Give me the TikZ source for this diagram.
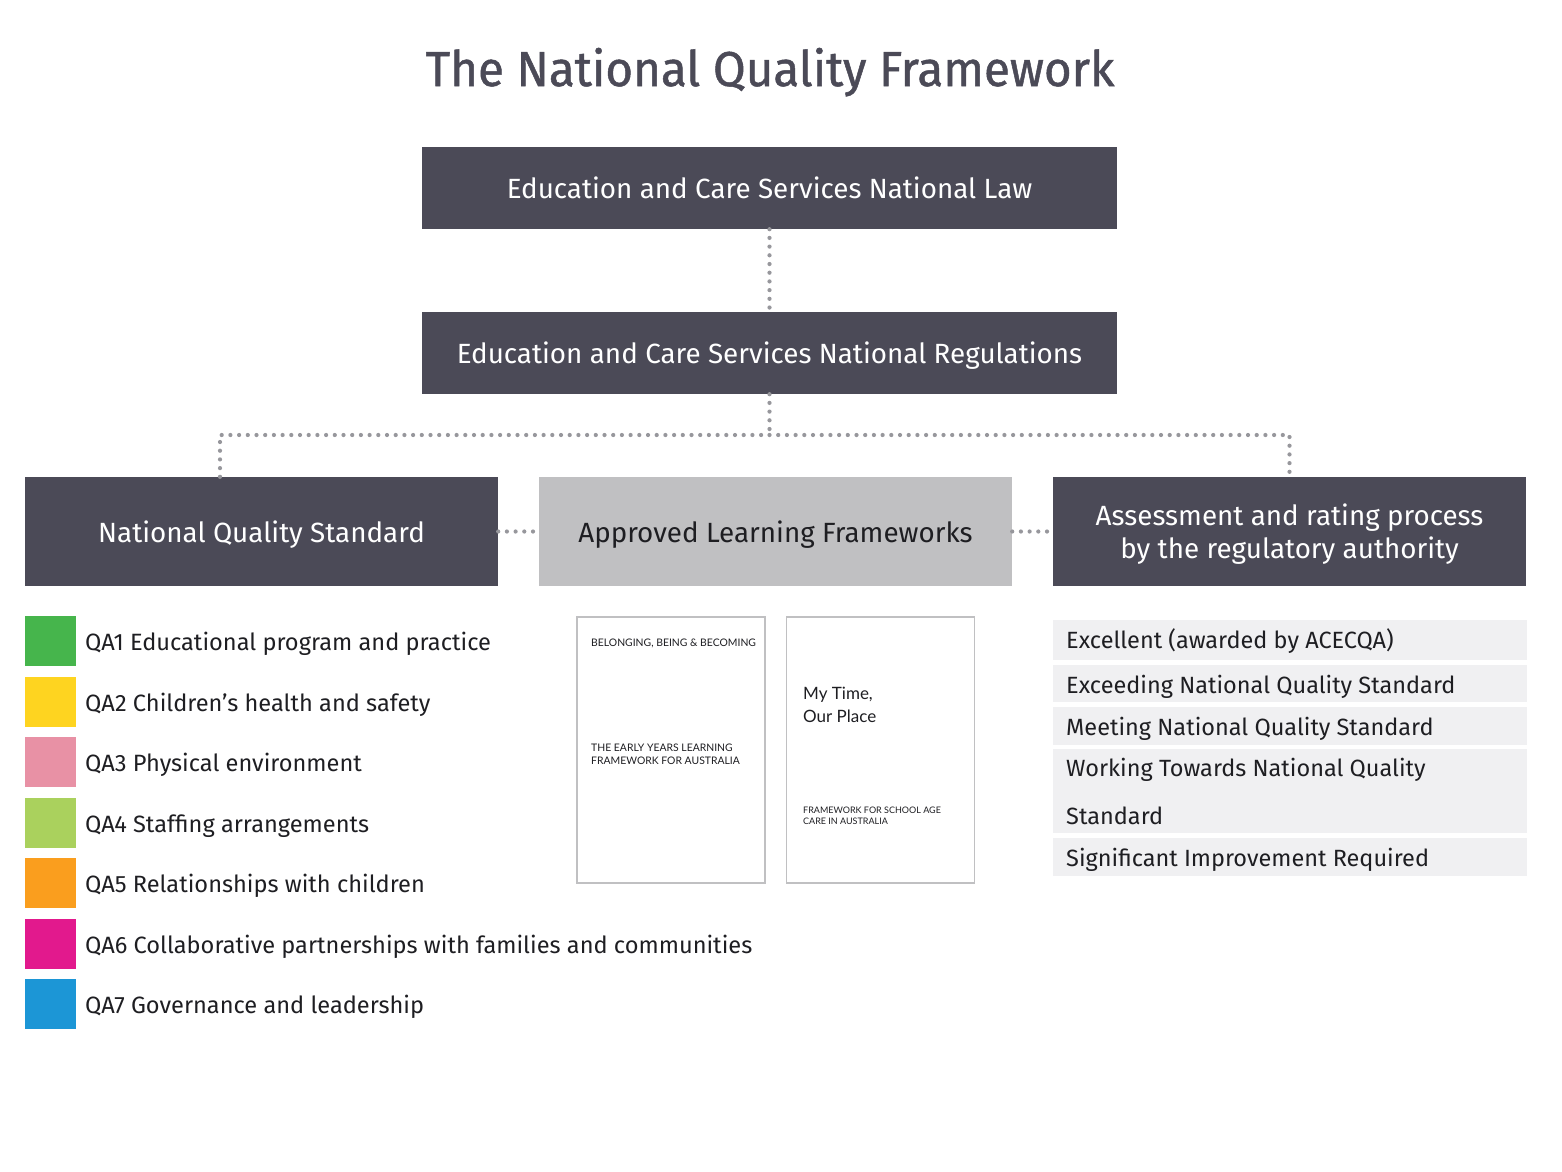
\documentclass[tikz,border=0pt]{standalone}
\usepackage{fontspec}
\setmainfont{Fira Sans}
\newfontfamily\titlefont{Fira Sans}[FakeStretch=0.97, FakeBold=1.0]
\newfontfamily\coverfont{Lato}
\definecolor{boxdark}{HTML}{4B4A57}
\definecolor{boxlight}{HTML}{C0C0C2}
\definecolor{dotgray}{HTML}{97979C}
\definecolor{rowfill}{HTML}{F0F0F2}
\definecolor{txtdark}{HTML}{1E1E22}
\definecolor{qaone}{HTML}{46B54C}
\definecolor{qatwo}{HTML}{FED420}
\definecolor{qathree}{HTML}{E891A5}
\definecolor{qafour}{HTML}{AAD15D}
\definecolor{qafive}{HTML}{FA9E1E}
\definecolor{qasix}{HTML}{E2198D}
\definecolor{qaseven}{HTML}{1C96D6}
\tikzset{
  darkbox/.style={fill=boxdark, draw=none, text=white, inner sep=0pt, align=center,
    font=\fontsize{27.8}{33}\selectfont, text height=21pt, text depth=0pt},
  lightbox/.style={darkbox, fill=boxlight, text=txtdark},
  dotline/.style={draw=dotgray, line width=4.2pt, line cap=round, dash pattern=on 0pt off 8.7pt},
  qasq/.style={minimum width=51pt, minimum height=50pt, inner sep=0pt, draw=none},
  qatext/.style={anchor=base west, inner sep=0pt, text=txtdark, font=\fontsize{23.6}{29}\selectfont},
  cover/.style={draw=boxlight, line width=1.6pt, fill=white, minimum width=188pt, minimum height=266pt, inner sep=0pt},
  covertxt/.style={anchor=base west, inner sep=0pt, align=left, text=txtdark, font=\coverfont\fontsize{10.4}{12.2}\selectfont},
  ratingrow/.style={fill=rowfill, draw=none, inner sep=0pt, minimum width=474pt},
  ratingtxt/.style={anchor=base west, inner sep=0pt, text=txtdark, font=\fontsize{23.5}{29}\selectfont},
}
\begin{document}
\begin{tikzpicture}[x=1pt, y=-1pt]
\useasboundingbox[fill=white] (0,0) rectangle (1562,1171);

% title
\node[inner sep=0pt, anchor=base, text=boxdark, font=\titlefont\fontsize{49}{58}\selectfont] (title) at (770,86) {The National Quality Framework};

% main boxes
\node[darkbox, minimum width=695pt, minimum height=82pt] (law) at (769.5,188) {Education and Care Services National Law};
\node[darkbox, minimum width=695pt, minimum height=82pt] (regs) at (769.5,353) {Education and Care Services National Regulations};
\node[darkbox, minimum width=473pt, minimum height=109pt] (nqs) at (261.5,531.5) {National Quality Standard};
\node[lightbox, minimum width=473pt, minimum height=109pt] (alf) at (775.5,531.5) {Approved Learning Frameworks};
\node[darkbox, minimum width=473pt, minimum height=109pt, text height=54pt, text depth=1pt] (arp) at (1289.5,531.5) {Assessment and rating process\\by the regulatory authority};

% connectors
\coordinate (junc) at (769.5,435);
\draw[dotline] (law.south) -- (regs.north);
\draw[dotline] (regs.south) -- (junc);
\draw[dotline] ([xshift=-41.5pt]nqs.north) |- (junc);
\draw[dotline] (junc) -| (arp.north);
\draw[dotline] (nqs.east) -- (alf.west);
\draw[dotline] (alf.east) -- (arp.west);

% quality areas
\node[qasq, fill=qaone]   (sq1) at (50.5,641) {};
\node[qasq, fill=qatwo]   (sq2) at (50.5,701.5) {};
\node[qasq, fill=qathree] (sq3) at (50.5,762) {};
\node[qasq, fill=qafour]  (sq4) at (50.5,822.5) {};
\node[qasq, fill=qafive]  (sq5) at (50.5,883) {};
\node[qasq, fill=qasix]   (sq6) at (50.5,943.5) {};
\node[qasq, fill=qaseven] (sq7) at (50.5,1004) {};
\node[qatext] (qa1) at (85,650.5) {QA1 Educational program and practice};
\node[qatext] (qa2) at (85,711) {QA2 Children’s health and safety};
\node[qatext] (qa3) at (85,771.5) {QA3 Physical environment};
\node[qatext] (qa4) at (85,832) {QA4 Staffing arrangements};
\node[qatext] (qa5) at (85,892.5) {QA5 Relationships with children};
\node[qatext] (qa6) at (85,953) {QA6 Collaborative partnerships with families and communities};
\node[qatext] (qa7) at (85,1013.5) {QA7 Governance and leadership};

% covers
\node[cover] (eylf) at (671,750) {};
\node[cover] (mtop) at (880.5,750) {};
\node[covertxt] (eylfa) at (591,646) {BELONGING, BEING \& BECOMING};
\node[covertxt] (eylfb) at (591,764) {THE EARLY YEARS LEARNING\\FRAMEWORK FOR AUSTRALIA};
\node[covertxt, font=\coverfont\fontsize{17}{22.5}\selectfont] (mtopa) at (803,722) {My Time,\\Our Place};
\node[covertxt, font=\coverfont\fontsize{9}{11}\selectfont] (mtopb) at (803,824) {FRAMEWORK FOR SCHOOL AGE\\CARE IN AUSTRALIA};

% ratings
\node[ratingrow, minimum height=40pt] (r1) at (1290,640) {};
\node[ratingrow, minimum height=37pt] (r2) at (1290,683.5) {};
\node[ratingrow, minimum height=38pt] (r3) at (1290,726) {};
\node[ratingrow, minimum height=84pt] (r4) at (1290,791) {};
\node[ratingrow, minimum height=38pt] (r5) at (1290,857) {};
\node[ratingtxt] (t1) at (1066,648.5) {Excellent (awarded by ACECQA)};
\node[ratingtxt] (t2) at (1066,693) {Exceeding National Quality Standard};
\node[ratingtxt] (t3) at (1066,735) {Meeting National Quality Standard};
\node[ratingtxt] (t4) at (1066,776.5) {Working Towards National Quality};
\node[ratingtxt] (t4b) at (1066,824) {Standard};
\node[ratingtxt] (t5) at (1066,866) {Significant Improvement Required};
\end{tikzpicture}
\end{document}
